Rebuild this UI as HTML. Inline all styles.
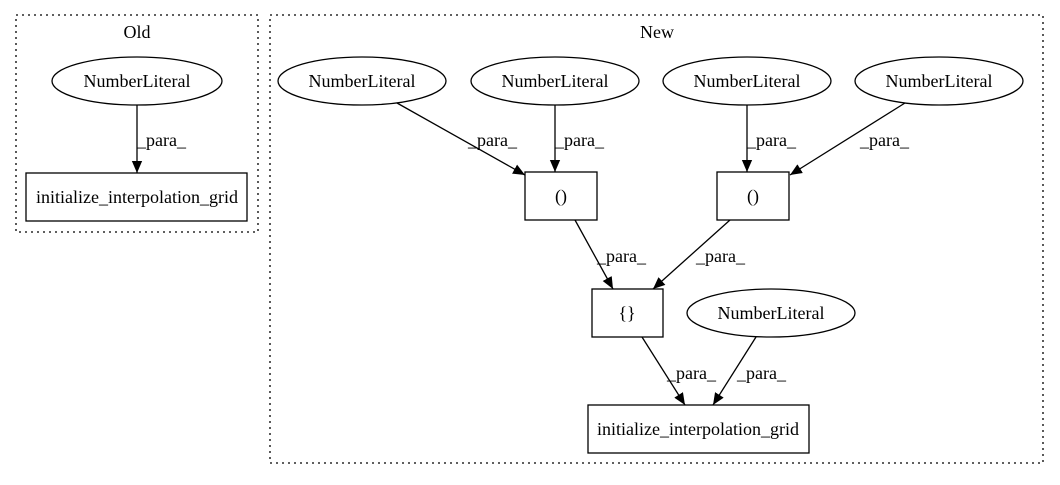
<!DOCTYPE html>
<html><head><style>body{margin:0;background:#fff}</style></head><body>
<svg width="1060" height="480" xmlns="http://www.w3.org/2000/svg" font-family="Liberation Serif, serif" font-size="18">
<defs><marker id="a" markerWidth="12" markerHeight="12" refX="14" refY="6" orient="auto" markerUnits="userSpaceOnUse" viewBox="0 0 14 12"><path d="M0,0L14,6L0,12z" fill="#000"/></marker></defs>
<g fill="none" stroke="#000" stroke-width="1.3" stroke-dasharray="2,4">
<rect x="16" y="15" width="242" height="217"/>
<rect x="270" y="15" width="773" height="448"/>
</g>
<g text-anchor="middle">
<text x="137" y="38">Old</text><text x="657" y="38">New</text>
</g>
<g fill="none" stroke="#000" stroke-width="1.3">
<ellipse cx="137" cy="81" rx="85" ry="24"/>
<rect x="26" y="173" width="221" height="48"/>
<ellipse cx="362" cy="81" rx="84" ry="24"/>
<ellipse cx="555" cy="81" rx="84" ry="24"/>
<ellipse cx="747" cy="81" rx="84" ry="24"/>
<ellipse cx="939" cy="81" rx="84" ry="24"/>
<rect x="525" y="172" width="72" height="48"/>
<rect x="717" y="172" width="72" height="48"/>
<rect x="592" y="289" width="71" height="48"/>
<ellipse cx="771" cy="313" rx="84" ry="24"/>
<rect x="588" y="405" width="221" height="48"/>
</g>
<g stroke="#000" stroke-width="1.3" marker-end="url(#a)">
<line x1="137" y1="105" x2="137" y2="173"/>
<line x1="397" y1="103" x2="525" y2="175"/>
<line x1="555" y1="105" x2="555" y2="172"/>
<line x1="747" y1="105" x2="747" y2="172"/>
<line x1="905" y1="103" x2="790" y2="175"/>
<line x1="575" y1="220" x2="613" y2="289"/>
<line x1="730" y1="220" x2="653" y2="289"/>
<line x1="642" y1="337" x2="685" y2="405"/>
<line x1="756" y1="337" x2="713" y2="405"/>
</g>
<g text-anchor="middle">
<text x="137" y="87">NumberLiteral</text>
<text x="137" y="203">initialize_interpolation_grid</text>
<text x="362" y="87">NumberLiteral</text>
<text x="555" y="87">NumberLiteral</text>
<text x="747" y="87">NumberLiteral</text>
<text x="939" y="87">NumberLiteral</text>
<text x="561" y="202">()</text>
<text x="753" y="202">()</text>
<text x="627" y="319">{}</text>
<text x="771" y="319">NumberLiteral</text>
<text x="698" y="435">initialize_interpolation_grid</text>
</g>
<g>
<text x="137" y="146">_para_</text>
<text x="468" y="146">_para_</text>
<text x="555" y="146">_para_</text>
<text x="747" y="146">_para_</text>
<text x="860" y="146">_para_</text>
<text x="597" y="262">_para_</text>
<text x="696" y="262">_para_</text>
<text x="667" y="379">_para_</text>
<text x="737" y="379">_para_</text>
</g>
</svg>
</body></html>
